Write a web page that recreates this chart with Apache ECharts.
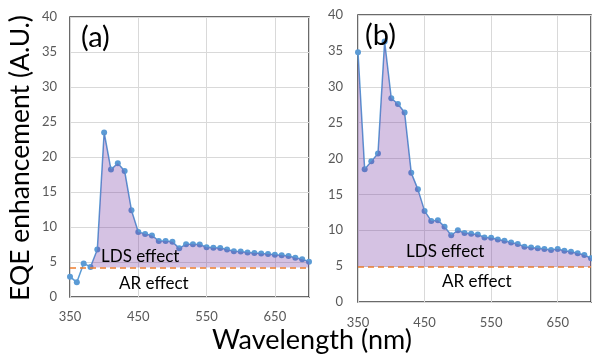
<!DOCTYPE html>
<html><head><meta charset="utf-8">
<script src="https://cdn.jsdelivr.net/npm/echarts@6/dist/echarts.min.js"></script>
<style>html,body{margin:0;padding:0;background:#fff}#c{width:592px;height:356px}</style>
</head><body><div id="c"></div>
<script>
var wavelengths = [350,360,370,380,390,400,410,420,430,440,450,460,470,480,490,500,510,520,530,540,550,560,570,580,590,600,610,620,630,640,650,660,670,680,690,700];
var eqeA = [2.9,2.1,4.8,4.3,6.8,23.5,18.2,19.1,18.0,12.4,9.3,9.0,8.8,8.0,8.0,7.9,6.95,7.55,7.55,7.5,7.1,7.05,7.0,6.8,6.55,6.5,6.35,6.3,6.2,6.15,6.05,5.95,5.85,5.6,5.4,5.05];
var eqeB = [34.8,18.5,19.6,20.7,36.3,28.4,27.6,26.4,18.0,15.7,12.7,11.3,11.4,10.5,9.3,10.0,9.6,9.5,9.4,9.0,8.95,8.7,8.55,8.3,8.1,7.7,7.6,7.5,7.4,7.25,7.4,7.15,7.0,6.8,6.55,6.1];
var arA = 4.2;
var arB = 4.9;
var fillStartA = 380;
var fillStartB = 350;
var xTicks = [350, 700, 100];
var yTicks = [0, 40, 5];
var panelLabels = ['(a)', '(b)'];
var yTitle = 'EQE enhancement (A.U.)';
var xTitle = 'Wavelength (nm)';

var FONT = 'Lato, "Open Sans", sans-serif';
function pairs(vals, start) {
  var out = [];
  wavelengths.forEach(function (w, i) { if (w >= start) out.push([w, vals[i]]); });
  return out;
}
function xAxis(idx, margin) {
  return {type:'value', gridIndex:idx, min:xTicks[0], max:xTicks[1], interval:xTicks[2],
    axisLine:{show:false}, axisTick:{show:false},
    axisLabel:{color:'#595959', fontSize:13, fontFamily:FONT, margin:margin, showMaxLabel:false},
    splitLine:{show:true, lineStyle:{color:'#d9d9d9', width:1}}};
}
function yAxis(idx, margin) {
  return {type:'value', gridIndex:idx, min:yTicks[0], max:yTicks[1], interval:yTicks[2],
    axisLine:{show:false}, axisTick:{show:false},
    axisLabel:{color:'#595959', fontSize:13, fontFamily:FONT, margin:margin},
    splitLine:{show:true, lineStyle:{color:'#d9d9d9', width:1}}};
}
function lineSeries(idx, vals, ar) {
  return {type:'line', xAxisIndex:idx, yAxisIndex:idx, data:pairs(vals, xTicks[0]),
    symbol:'circle', symbolSize:6, z:2,
    lineStyle:{color:'#5B9BD5', width:1.5}, itemStyle:{color:'#5B9BD5'},
    markLine:{silent:true, symbol:'none', label:{show:false},
      lineStyle:{color:'#ED7D31', type:[6,4], width:1.5}, data:[{yAxis:ar}]}};
}
function fillSeries(idx, vals, ar, start) {
  return {type:'line', xAxisIndex:idx, yAxisIndex:idx, data:pairs(vals, start),
    symbol:'none', z:3, silent:true,
    lineStyle:{width:0}, areaStyle:{color:'rgba(112,48,160,0.42)', origin:ar}};
}
var chart = echarts.init(document.getElementById('c'), null, {renderer:'canvas'});
chart.setOption({
  animation:false,
  grid:[
    {left:70, top:17, width:239, height:280, show:true, borderColor:'#3a3a3a', borderWidth:1.5, backgroundColor:'transparent'},
    {left:358, top:15, width:233, height:287, show:true, borderColor:'#3a3a3a', borderWidth:1.5, backgroundColor:'transparent'}
  ],
  xAxis:[xAxis(0, 13), xAxis(1, 14)],
  yAxis:[yAxis(0, 13), yAxis(1, 15)],
  series:[
    lineSeries(0, eqeA, arA), fillSeries(0, eqeA, arA, fillStartA),
    lineSeries(1, eqeB, arB), fillSeries(1, eqeB, arB, fillStartB)
  ],
  graphic:[
    {type:'text', left:81, top:23, style:{text:panelLabels[0], font:'29px '+FONT, fill:'#000'}, z:10},
    {type:'text', left:365, top:21, style:{text:panelLabels[1], font:'29px '+FONT, fill:'#000'}, z:10},
    {type:'text', left:101, top:248, style:{text:'LDS effect', font:'17px '+FONT, fill:'#000'}, z:10},
    {type:'text', left:119, top:275, style:{text:'AR effect', font:'17px '+FONT, fill:'#000'}, z:10},
    {type:'text', left:406, top:243, style:{text:'LDS effect', font:'17px '+FONT, fill:'#000'}, z:10},
    {type:'text', left:442, top:273, style:{text:'AR effect', font:'17px '+FONT, fill:'#000'}, z:10},
    {type:'text', x:20, y:158, rotation:Math.PI/2, style:{text:yTitle, font:'26.5px '+FONT, fill:'#000', align:'center', verticalAlign:'middle'}, z:10},
    {type:'text', x:312, y:340, style:{text:xTitle, font:'27px '+FONT, fill:'#000', align:'center', verticalAlign:'middle'}, z:10}
  ]
});
</script></body></html>
